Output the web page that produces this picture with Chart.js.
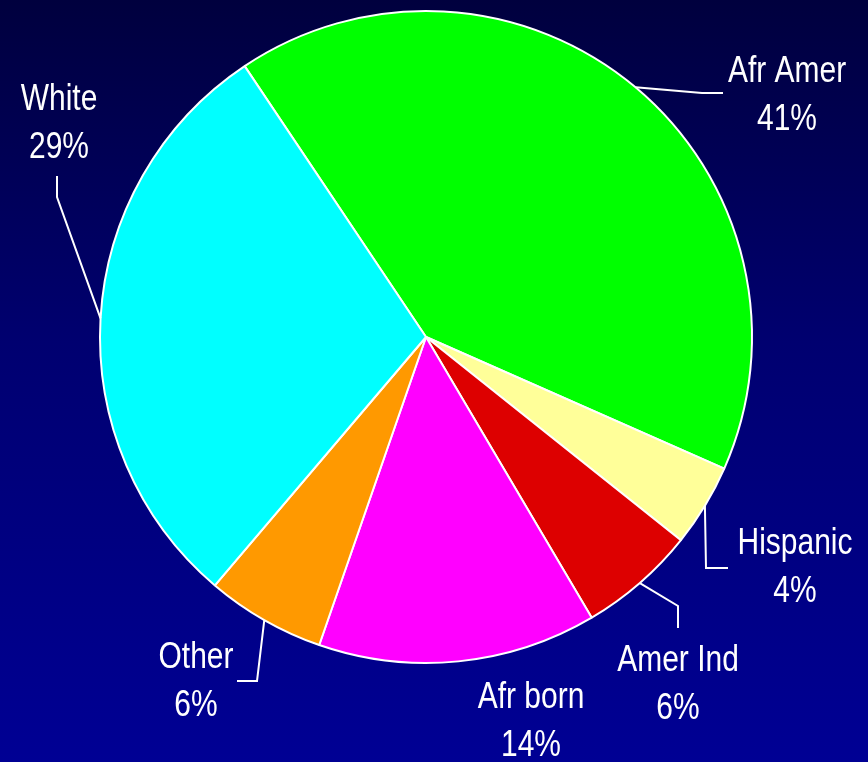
<!DOCTYPE html>
<html>
<head>
<meta charset="utf-8">
<script src="https://cdn.jsdelivr.net/npm/chart.js"></script>
<style>
  html, body { margin: 0; padding: 0; }
  body { width: 868px; height: 762px; overflow: hidden; }
  #wrap {
    width: 868px; height: 762px;
    background: linear-gradient(to bottom, #00003e 0%, #000070 45%, #000094 100%);
  }
</style>
</head>
<body>
<div id="wrap"><canvas id="grafico" width="868" height="762"></canvas></div>
<script>
// dados
const categorias = ['Afr Amer', 'Hispanic', 'Amer Ind', 'Afr born', 'Other', 'White'];
const valores = [41.0, 4.1, 5.8, 13.8, 5.9, 29.4];
const cores = ['#00ff00', '#ffff99', '#dd0000', '#ff00ff', '#ff9900', '#00ffff'];

// posicao dos rotulos (texto + linha guia), em px do canvas
const rotulos = [
  { x: 787, y: 82, guia: [[702, 93], [723, 93]] },
  { x: 795, y: 554, guia: [[706, 568], [728, 568]] },
  { x: 678, y: 671, guia: [[678, 606], [678, 628]] },
  { x: 531, y: 708, guia: null },
  { x: 196, y: 668, guia: [[257, 681], [237, 681]] },
  { x: 59, y: 110, guia: [[57, 197], [57, 176]] }
];

const pluginRotulos = {
  id: 'rotulos',
  afterDatasetsDraw(chart) {
    const ctx = chart.ctx;
    const arcos = chart.getDatasetMeta(0).data;
    const total = valores.reduce((a, b) => a + b, 0);
    ctx.save();
    ctx.strokeStyle = '#ffffff';
    ctx.lineWidth = 2;
    ctx.fillStyle = '#ffffff';
    ctx.font = '37px "Liberation Sans", Arial, sans-serif';
    ctx.textAlign = 'center';
    ctx.textBaseline = 'alphabetic';
    arcos.forEach((arco, i) => {
      const r = rotulos[i];
      if (r.guia) {
        const meio = (arco.startAngle + arco.endAngle) / 2;
        const x0 = arco.x + Math.cos(meio) * arco.outerRadius;
        const y0 = arco.y + Math.sin(meio) * arco.outerRadius;
        ctx.beginPath();
        ctx.moveTo(x0, y0);
        r.guia.forEach(p => ctx.lineTo(p[0], p[1]));
        ctx.stroke();
      }
      const pct = Math.round(valores[i] / total * 100) + '%';
      [categorias[i], pct].forEach((t, k) => {
        ctx.save();
        ctx.translate(r.x, r.y + k * 48);
        ctx.scale(0.81, 1);
        ctx.fillText(t, 0, 0);
        ctx.restore();
      });
    });
    ctx.restore();
  }
};

new Chart(document.getElementById('grafico').getContext('2d'), {
  type: 'pie',
  data: {
    labels: categorias,
    datasets: [{
      data: valores,
      backgroundColor: cores,
      borderColor: '#ffffff',
      borderWidth: 2
    }]
  },
  options: {
    responsive: false,
    animation: false,
    rotation: -33.8,
    layout: { padding: { left: 99, right: 115, top: 10, bottom: 98 } },
    plugins: {
      legend: { display: false },
      tooltip: { enabled: false }
    }
  },
  plugins: [pluginRotulos]
});
</script>
</body>
</html>
